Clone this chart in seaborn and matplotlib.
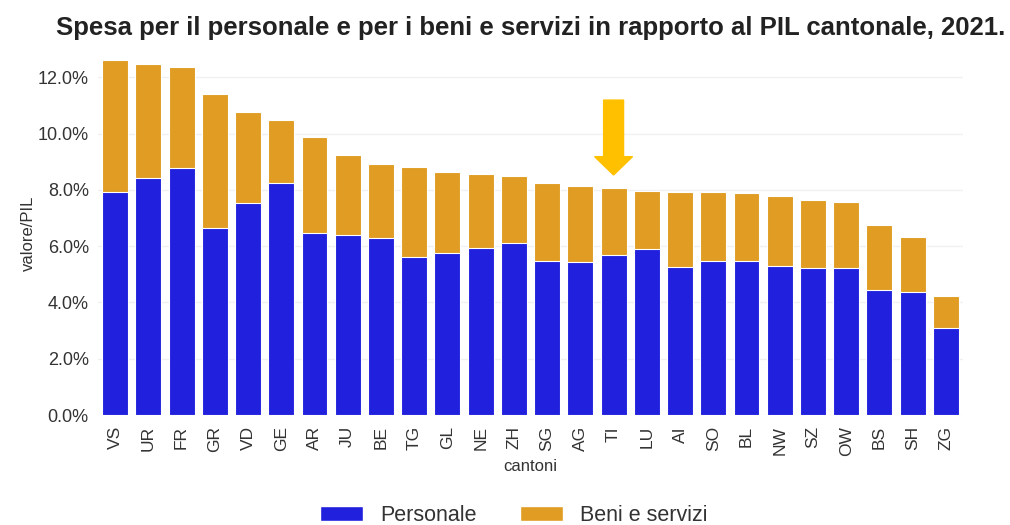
import matplotlib
matplotlib.use("Agg")
import matplotlib.pyplot as plt
from matplotlib.ticker import PercentFormatter
from matplotlib.patches import Patch
import seaborn as sns
import pandas as pd

# ---------------------------
# Data (valore/PIL, in %)
# ---------------------------
cantoni = ['VS', 'UR', 'FR', 'GR', 'VD', 'GE', 'AR', 'JU', 'BE', 'TG', 'GL', 'NE', 'ZH',
           'SG', 'AG', 'TI', 'LU', 'AI', 'SO', 'BL', 'NW', 'SZ', 'OW', 'BS', 'SH', 'ZG']
personale = [7.91, 8.41, 8.76, 6.65, 7.54, 8.24, 6.47, 6.41, 6.28, 5.61, 5.74, 5.94, 6.10,
             5.46, 5.42, 5.70, 5.89, 5.27, 5.46, 5.46, 5.30, 5.21, 5.21, 4.45, 4.36, 3.08]
beni_servizi = [4.72, 4.05, 3.61, 4.74, 3.22, 2.25, 3.41, 2.83, 2.65, 3.20, 2.88, 2.62, 2.40,
                2.77, 2.71, 2.35, 2.07, 2.65, 2.46, 2.43, 2.48, 2.42, 2.36, 2.29, 1.98, 1.14]
evidenziato = 'TI'

df = pd.DataFrame({'cantoni': cantoni, 'personale': personale, 'beni': beni_servizi})
df['totale'] = df['personale'] + df['beni']

blu = '#2020DD'
arancio = '#E09C23'
freccia = '#FFC000'
testo = '#333333'

# ---------------------------
# Style
# ---------------------------
sns.set_style('whitegrid', {'grid.color': '#F0F0F0', 'axes.edgecolor': 'white'})
plt.rcParams['font.family'] = ['Liberation Sans', 'DejaVu Sans']

fig = plt.figure(figsize=(10.1, 5.25), dpi=100)
ax = fig.add_axes([0.0975, 0.2095, 0.8555, 0.6915])

# stacked bars: total in orange, personale in blue on top of it
sns.barplot(data=df, x='cantoni', y='totale', color=arancio, saturation=1,
            width=0.78, edgecolor='white', linewidth=0.8, ax=ax)
sns.barplot(data=df, x='cantoni', y='personale', color=blu, saturation=1,
            width=0.78, edgecolor='white', linewidth=0.8, ax=ax)

ax.set_xlim(-0.5, len(cantoni) - 0.5)
ax.set_ylim(0, 12.9)
ax.set_yticks([0, 2, 4, 6, 8, 10, 12])
ax.yaxis.set_major_formatter(PercentFormatter(xmax=100, decimals=1))
ax.grid(axis='x', visible=False)
ax.grid(axis='y', color='#F0F0F0', linewidth=1)
sns.despine(ax=ax, left=True, bottom=True)

ax.tick_params(axis='y', labelsize=13, labelcolor=testo, length=0, pad=7)
ax.tick_params(axis='x', labelsize=12.5, labelcolor=testo, length=0, pad=8, rotation=90)
ax.set_xlabel('cantoni', fontsize=12, color=testo, labelpad=2)
ax.set_ylabel('valore/PIL', fontsize=12, color=testo, labelpad=1)

# arrow over TI
i = cantoni.index(evidenziato)
ax.arrow(i, 11.19, 0, -2.66, width=0.6, head_width=1.14, head_length=0.65,
         length_includes_head=True, color=freccia, zorder=5)

fig.suptitle('Spesa per il personale e per i beni e servizi in rapporto al PIL cantonale, 2021.',
             x=0.525, y=0.946, va='center', fontsize=18.5, fontweight='bold', color='#222222')

handles = [Patch(facecolor=blu, label='Personale'), Patch(facecolor=arancio, label='Beni e servizi')]
fig.legend(handles=handles, loc='center', bbox_to_anchor=(0.509, 0.018), ncol=2, frameon=False,
           fontsize=15.5, labelcolor=testo, handlelength=2.0, handleheight=0.7,
           handletextpad=0.8, columnspacing=2.0)

fig.savefig('out.png', dpi=100)
